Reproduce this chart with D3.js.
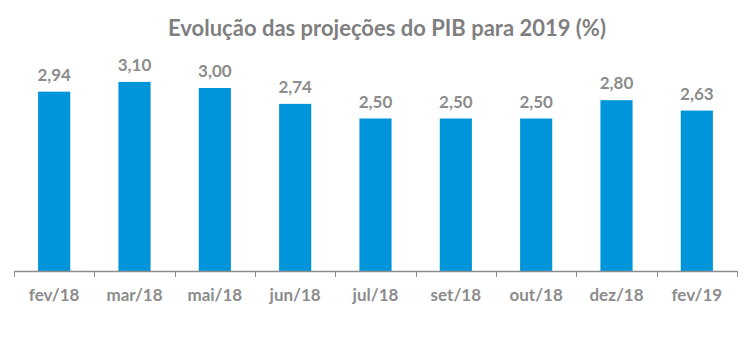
<!DOCTYPE html>
<html>
<head>
<meta charset="utf-8">
<script src="https://cdn.jsdelivr.net/npm/d3@7"></script>
<style>
  html, body { margin: 0; padding: 0; background: #fff; }
  svg { display: block; }
  text { font-family: Lato, "Open Sans", sans-serif; font-weight: bold; }
</style>
</head>
<body>
<svg id="chart" width="751" height="357"></svg>
<script>
const title = "Evolução das projeções do PIB para 2019 (%)";
const categories = ["fev/18", "mar/18", "mai/18", "jun/18", "jul/18", "set/18", "out/18", "dez/18", "fev/19"];
const values = [2.94, 3.10, 3.00, 2.74, 2.50, 2.50, 2.50, 2.80, 2.63];
const valueLabels = ["2,94", "3,10", "3,00", "2,74", "2,50", "2,50", "2,50", "2,80", "2,63"];

const svg = d3.select("#chart");
const W = 751, H = 357;
const left = 14, right = 737, baseline = 271;

const x = d3.scaleBand().domain(categories).range([left, right]).paddingInner(0.6).paddingOuter(0.3);
const y = d3.scaleLinear().domain([0, 3.5]).range([baseline, baseline - 3.5 * 61]);

svg.append("text")
  .attr("x", 387).attr("y", 36)
  .attr("text-anchor", "middle")
  .attr("fill", "#7f7f7f")
  .style("font-size", "22px")
  .text(title);

svg.selectAll("rect.bar").data(values).enter().append("rect")
  .attr("class", "bar")
  .attr("x", (d, i) => x(categories[i]))
  .attr("width", x.bandwidth())
  .attr("y", d => y(d))
  .attr("height", d => baseline - y(d))
  .attr("fill", "#0095da");

svg.selectAll("text.val").data(values).enter().append("text")
  .attr("class", "val")
  .attr("x", (d, i) => x(categories[i]) + x.bandwidth() / 2)
  .attr("y", d => y(d) - 11)
  .attr("text-anchor", "middle")
  .attr("fill", "#8c8c8c")
  .style("font-size", "17px")
  .text((d, i) => valueLabels[i]);

// axis with ticks at band boundaries
const step = x.step();
const boundaries = d3.range(categories.length + 1).map(i => left + i * (right - left) / categories.length);
const ax = svg.append("g");
ax.append("line")
  .attr("x1", left).attr("x2", right)
  .attr("y1", baseline + 0.5).attr("y2", baseline + 0.5)
  .attr("stroke", "#8c8c8c").attr("stroke-width", 1.5);
ax.selectAll("line.tick").data(boundaries).enter().append("line")
  .attr("class", "tick")
  .attr("x1", d => Math.round(d) + 0.5).attr("x2", d => Math.round(d) + 0.5)
  .attr("y1", baseline).attr("y2", baseline + 6)
  .attr("stroke", "#8c8c8c").attr("stroke-width", 1);

ax.selectAll("text.cat").data(categories).enter().append("text")
  .attr("class", "cat")
  .attr("x", d => x(d) + x.bandwidth() / 2)
  .attr("y", 301)
  .attr("text-anchor", "middle")
  .attr("fill", "#8c8c8c")
  .style("font-size", "17px")
  .text(d => d);
</script>
</body>
</html>
